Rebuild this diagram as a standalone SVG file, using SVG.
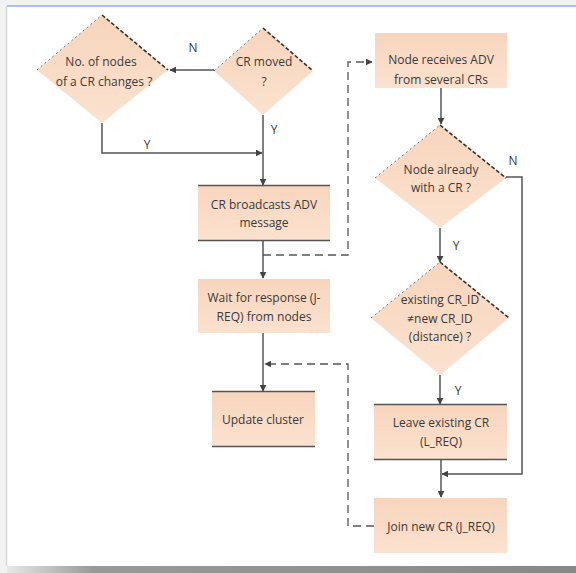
<svg xmlns="http://www.w3.org/2000/svg" width="576" height="573" viewBox="0 0 576 573">
<style>
text{font-family:"Open Sans","Liberation Sans",sans-serif;font-size:12px;fill:#3a3a3a;text-anchor:middle}
.lbl{font-size:12px}
.c{stroke:#555;stroke-width:1.5;fill:none}
.d{stroke:#555;stroke-width:1.3;fill:none;stroke-dasharray:8,5}
.bx{fill:url(#g)}
.bd{stroke:#555;stroke-width:1.5}
.dm{fill:url(#g)}
.edge{stroke:#333;stroke-width:1.6;fill:none;stroke-dasharray:4,2}
.edge2{stroke:#777;stroke-width:1;fill:none;stroke-dasharray:2,3}
</style>
<defs>
<linearGradient id="g" x1="0" y1="0" x2="0" y2="1">
<stop offset="0" stop-color="#f7d5bc"/>
<stop offset="1" stop-color="#fbe2cf"/>
</linearGradient>
<linearGradient id="sh" x1="0" y1="0" x2="1" y2="0">
<stop offset="0" stop-color="#e8e8e8"/>
<stop offset="0.15" stop-color="#999"/>
<stop offset="1" stop-color="#888"/>
</linearGradient>
<marker id="a" viewBox="0 0 10 10" refX="9" refY="5" markerWidth="7" markerHeight="7" markerUnits="userSpaceOnUse" orient="auto">
<path d="M0,0 L10,5 L0,10 z" fill="#444"/>
</marker>
</defs>
<rect width="576" height="573" fill="#f2f2f2"/>
<rect x="7" y="6" width="569" height="560" fill="#fff"/>
<line x1="7" y1="6" x2="576" y2="6" stroke="#a9c2e6" stroke-width="2"/>
<line x1="6.5" y1="6" x2="6.5" y2="566" stroke="#d8d8d8" stroke-width="1.5"/>
<rect x="7" y="566" width="569" height="7" fill="url(#sh)"/>

<g id="connectors">
<path class="c" d="M214,70 H170" marker-end="url(#a)"/>
<path class="c" d="M102,123 V153 H262" marker-end="url(#a)"/>
<path class="c" d="M263,115 V185" marker-end="url(#a)"/>
<path class="c" d="M263,241 V278" marker-end="url(#a)"/>
<path class="d" d="M263,255 H348 V62 H372" marker-end="url(#a)"/>
<path class="c" d="M441,88 V124" marker-end="url(#a)"/>
<path class="c" d="M440,228 V262" marker-end="url(#a)"/>
<path class="c" d="M506,177 H522 V474 H442" marker-end="url(#a)"/>
<path class="c" d="M263,333 V391" marker-end="url(#a)"/>
<path class="c" d="M440,375 V404" marker-end="url(#a)"/>
<path class="c" d="M441,460 V497" marker-end="url(#a)"/>
<path class="d" d="M374,526 H348 V364 H265" marker-end="url(#a)"/>
<text x="193" y="52" class="lbl">N</text>
<text x="147" y="149" class="lbl">Y</text>
<text x="274" y="134" class="lbl">Y</text>
<text x="513" y="165" class="lbl">N</text>
<text x="456" y="250" class="lbl">Y</text>
<text x="458" y="395" class="lbl">Y</text>
</g>

<g id="d1">
<path class="dm" d="M102,15 L168,70 L102,123 L37,70 z"/>
<path class="edge" d="M102,15 L168,70"/>
<path class="edge2" d="M37,70 L102,15"/>
<text x="101" y="66">No. of nodes</text>
<text x="104" y="86">of a CR changes ?</text>
</g>
<g id="d2">
<path class="dm" d="M263,28 L313,71 L263,115 L214,71 z"/>
<path class="edge" d="M263,28 L313,71"/>
<path class="edge2" d="M214,71 L263,28"/>
<text x="264" y="66">CR moved</text>
<text x="264" y="86">?</text>
</g>
<g id="b1">
<rect class="bx" x="198" y="185" width="132" height="56"/>
<line class="bd" x1="198" y1="185.5" x2="330" y2="185.5"/>
<line class="bd" x1="198" y1="240.5" x2="330" y2="240.5"/>
<text x="264" y="209">CR broadcasts ADV</text>
<text x="264" y="227">message</text>
</g>
<g id="b2">
<rect class="bx" x="198" y="279" width="132" height="54"/>
<text x="264" y="302">Wait for response (J-</text>
<text x="264" y="321">REQ) from nodes</text>
</g>
<g id="b3">
<rect class="bx" x="212" y="391" width="103" height="56"/>
<line class="bd" x1="212" y1="391.5" x2="315" y2="391.5"/>
<line class="bd" x1="212" y1="446.5" x2="315" y2="446.5"/>
<text x="263" y="424">Update cluster</text>
</g>
<g id="b4">
<rect class="bx" x="375" y="33" width="132" height="55"/>
<text x="441" y="64">Node receives ADV</text>
<text x="441" y="84">from several CRs</text>
</g>
<g id="d3">
<path class="dm" d="M440,125 L506,178 L440,228 L375,178 z"/>
<path class="edge" d="M440,125 L506,178"/>
<path class="edge2" d="M375,178 L440,125"/>
<text x="441" y="174">Node already</text>
<text x="441" y="192">with a CR ?</text>
</g>
<g id="d4">
<path class="dm" d="M440,262 L509,318 L440,375 L371,318 z"/>
<path class="edge" d="M440,262 L509,318"/>
<path class="edge2" d="M371,318 L440,262"/>
<text x="440" y="304">existing CR_ID</text>
<text x="440" y="323">≠new CR_ID</text>
<text x="440" y="341">(distance) ?</text>
</g>
<g id="b5">
<rect class="bx" x="374" y="404" width="133" height="56"/>
<line class="bd" x1="374" y1="404.5" x2="507" y2="404.5"/>
<line class="bd" x1="374" y1="459.5" x2="507" y2="459.5"/>
<text x="441" y="427">Leave existing CR</text>
<text x="441" y="446">(L_REQ)</text>
</g>
<g id="b6">
<rect class="bx" x="374" y="498" width="133" height="55"/>
<text x="441" y="531">Join new CR (J_REQ)</text>
</g>
</svg>
